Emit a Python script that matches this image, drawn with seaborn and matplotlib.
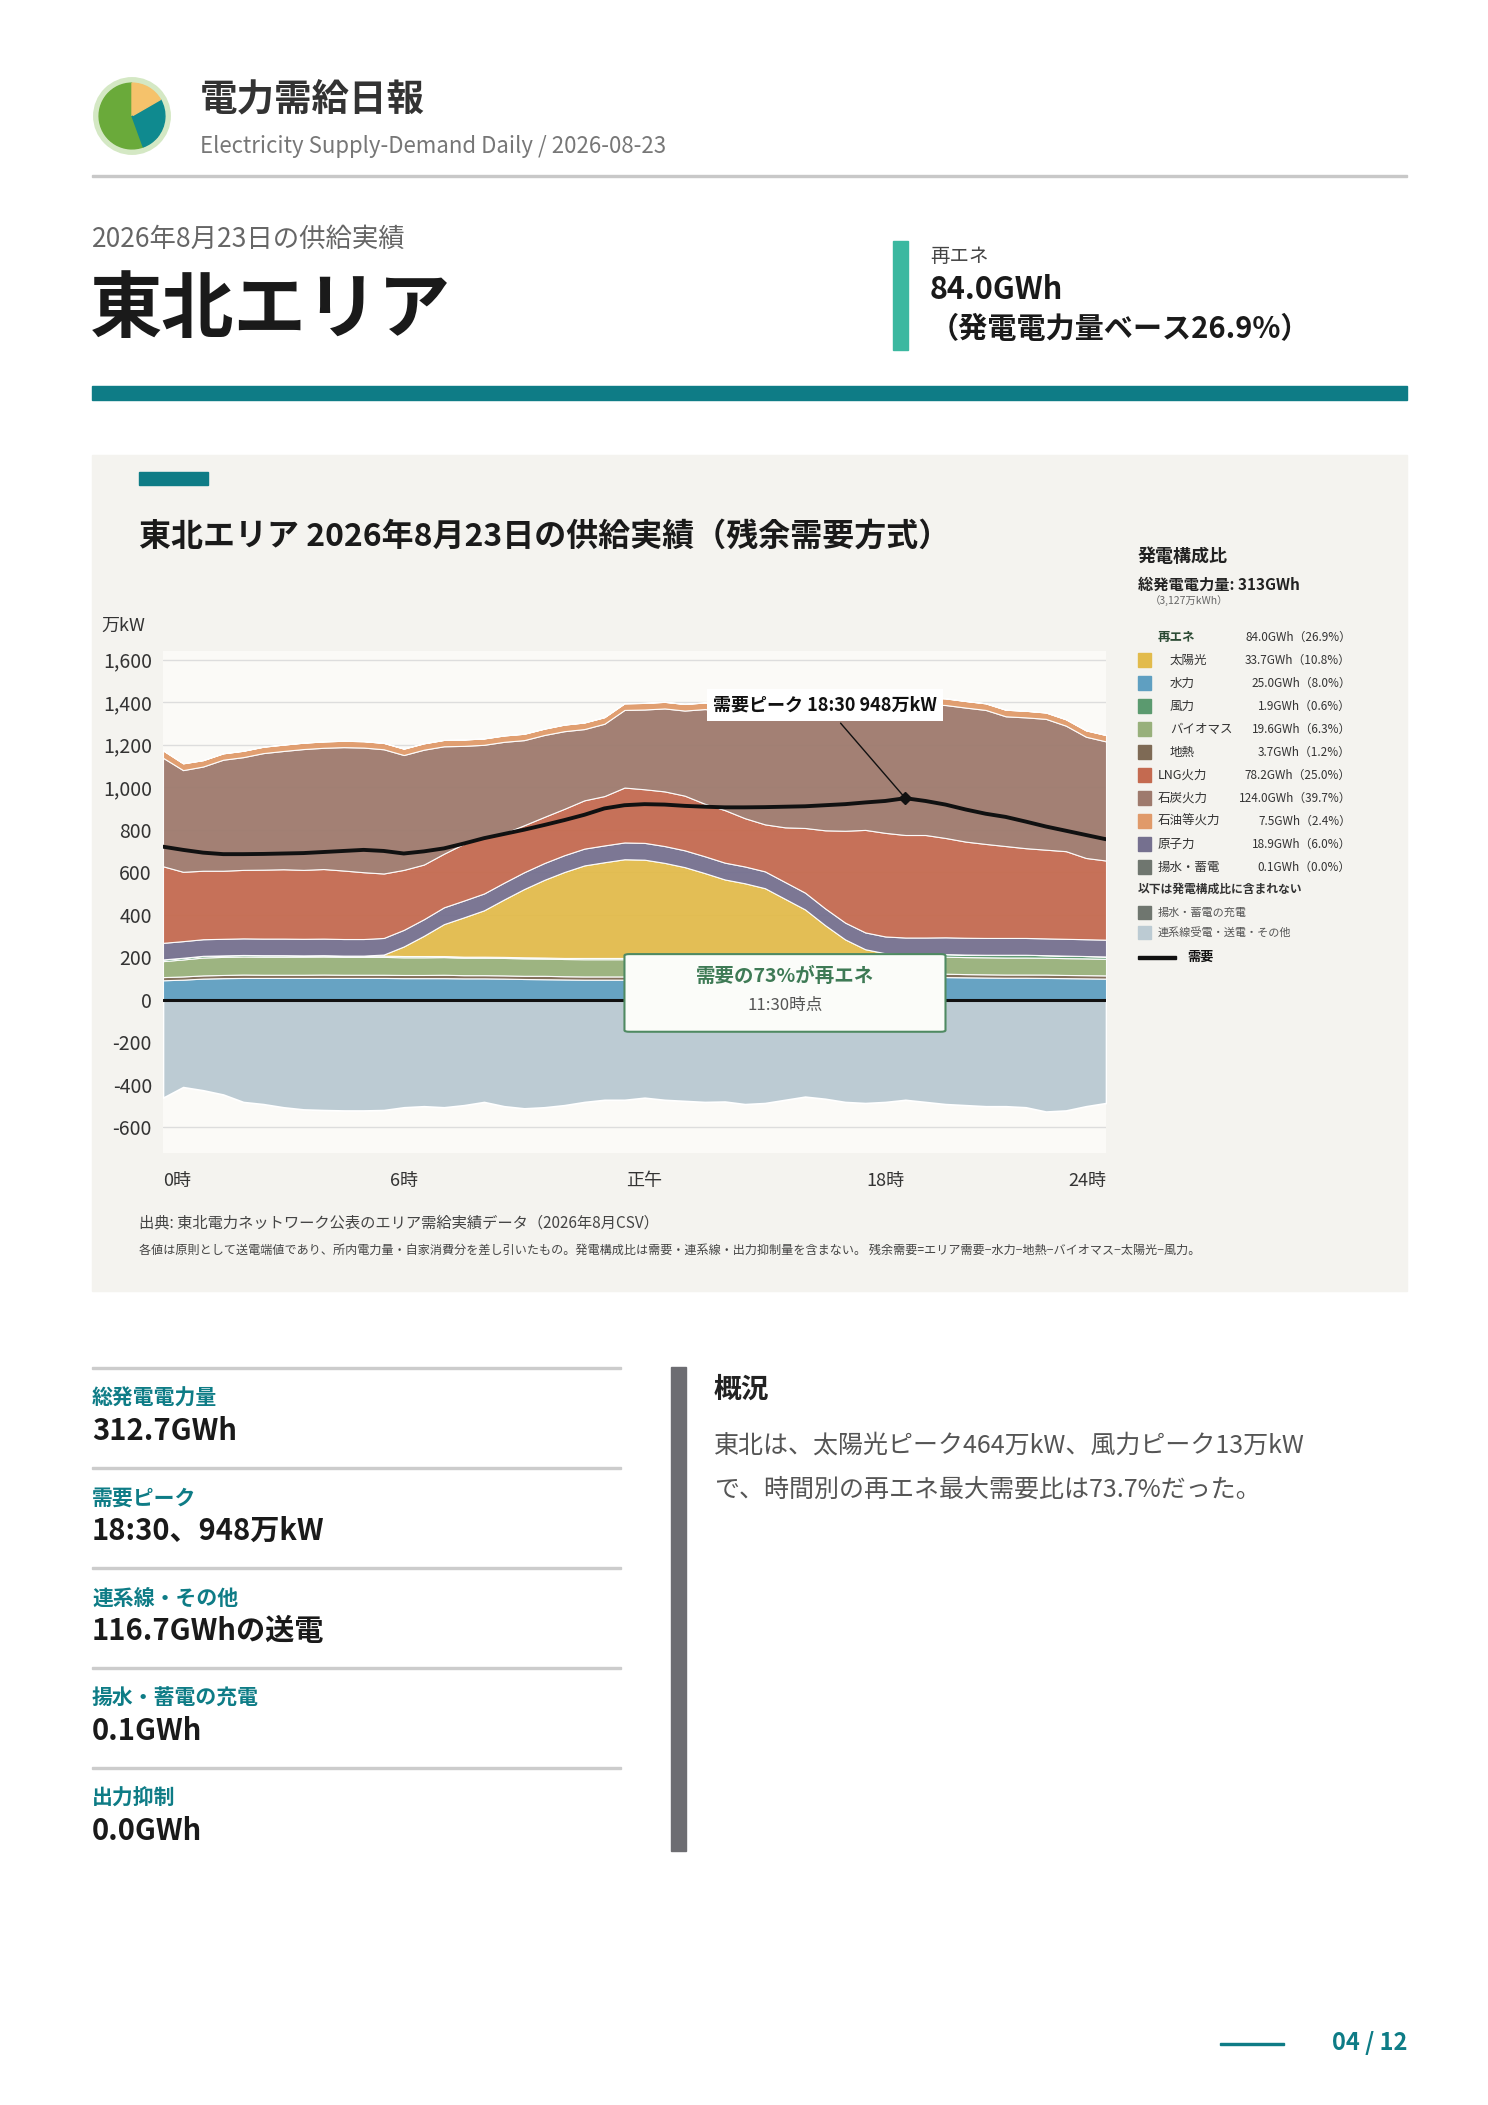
import numpy as np
import pandas as pd
import seaborn as sns
import matplotlib.pyplot as plt
from matplotlib.patches import Rectangle, FancyBboxPatch, Wedge, Circle

sns.set_theme(style="white")
plt.rcParams['font.family'] = ['Noto Sans CJK JP', 'DejaVu Sans']

# ---- data (万kW, 30-minute steps 0:00-23:30) ----
hours = [i * 0.5 for i in range(48)]
hydro = [92, 95, 100, 102, 103, 103, 103, 103, 103, 103, 103, 103, 102, 102, 102, 101,
         101, 100, 98, 97, 96, 95, 95, 95, 95, 96, 96, 97, 97, 98, 99, 100,
         102, 105, 107, 108, 108, 108, 108, 107, 106, 105, 104, 104, 103, 102, 101, 100]
geothermal = [15, 15, 15, 15, 16, 15, 15, 15, 16, 15, 15, 15, 15, 15, 16, 15,
              15, 15, 15, 16, 15, 15, 15, 15, 16, 15, 15, 15, 15, 16, 15, 15,
              15, 15, 16, 15, 15, 15, 15, 16, 15, 15, 15, 15, 16, 15, 15, 15]
biomass = [75, 80, 84, 85, 85, 85, 85, 85, 85, 84, 84, 84, 83, 83, 83, 82,
           82, 82, 82, 81, 81, 81, 81, 81, 81, 81, 81, 81, 81, 81, 81, 81,
           81, 81, 81, 80, 80, 80, 80, 80, 80, 80, 80, 80, 79, 79, 79, 78]
wind = [8, 8, 8, 7, 7, 7, 7, 6, 6, 6, 6, 6, 6, 6, 5, 5,
        5, 5, 5, 5, 5, 6, 6, 6, 7, 7, 7, 8, 8, 8, 9, 9,
        9, 10, 10, 10, 11, 11, 11, 12, 12, 12, 13, 13, 12, 12, 11, 11]
solar = [0, 0, 0, 0, 0, 0, 0, 0, 0, 0, 0, 5, 45, 95, 150, 185,
         218, 270, 321, 365, 404, 435, 450, 464, 460, 445, 425, 395, 365, 345, 321, 270,
         218, 140, 70, 25, 5, 0, 0, 0, 0, 0, 0, 0, 0, 0, 0, 0]
nuclear = [78, 78, 78, 78, 78, 78, 78, 78, 78, 78, 78, 78, 78, 78, 79, 79,
           79, 79, 79, 79, 79, 79, 79, 79, 79, 79, 79, 79, 79, 79, 79, 79,
           79, 79, 79, 79, 79, 79, 79, 79, 79, 79, 79, 79, 79, 79, 79, 79]
lng = [360, 326, 322, 320, 322, 324, 326, 324, 327, 322, 314, 303, 282, 257, 252, 267,
       264, 232, 221, 217, 218, 227, 232, 258, 252, 257, 257, 247, 247, 227, 221, 257,
       304, 367, 432, 482, 487, 482, 482, 467, 452, 442, 432, 422, 417, 412, 382, 372]
coal = [510, 478, 490, 522, 530, 548, 556, 568, 570, 580, 586, 584, 540, 540, 505, 460,
        435, 430, 400, 385, 365, 335, 340, 365, 375, 390, 400, 445, 465, 495, 510, 545,
        565, 590, 600, 600, 615, 620, 615, 625, 630, 630, 610, 615, 615, 590, 570, 560]
oil = [35, 32, 30, 30, 30, 30, 30, 30, 30, 30, 30, 30, 30, 30, 30, 30,
       30, 30, 30, 30, 31, 31, 31, 31, 31, 31, 31, 31, 31, 32, 32, 32,
       32, 32, 32, 32, 32, 32, 32, 31, 31, 31, 31, 31, 30, 30, 30, 30]
pumped = [0, 0, 0, 0, 0, 0, 0, 0, 0, 0, 0, 0, 0, 0, 0, 0,
          0, 0, 0, 0, 0, 0, 0, 0, 0, 0, 0, 0, 0, 0, 0, 0,
          0, 0, 0, 1, 2, 2, 1, 1, 0, 0, 0, 0, 0, 0, 0, 0]
interconnect = [-460, -410, -425, -445, -480, -490, -505, -515, -518, -520, -520, -518, -505, -500, -505, -495,
                -480, -500, -510, -505, -495, -480, -470, -470, -460, -470, -475, -480, -478, -490, -485, -470,
                -455, -465, -480, -485, -480, -470, -480, -490, -495, -500, -500, -505, -525, -520, -500, -485]
demand = [720, 705, 692, 685, 685, 686, 688, 690, 695, 700, 705, 700, 688, 698, 712, 735,
          760, 780, 800, 822, 845, 870, 900, 915, 920, 918, 912, 908, 905, 905, 906, 908,
          910, 915, 920, 928, 935, 948, 935, 918, 895, 875, 860, 838, 815, 795, 775, 755]

series_names = ['水力', '地熱', 'バイオマス', '風力', '太陽光', '原子力', 'LNG火力', '石炭火力', '石油等火力', '揚水・蓄電']
series_vals = [hydro, geothermal, biomass, wind, solar, nuclear, lng, coal, oil, pumped]
colors = {'太陽光': '#e2bb4c', '水力': '#5f9fc1', '風力': '#5b9a6f', 'バイオマス': '#98b07b',
          '地熱': '#7e6a55', 'LNG火力': '#c46a50', '石炭火力': '#9e7a6d', '石油等火力': '#e09a6a',
          '原子力': '#75708f', '揚水・蓄電': '#6f766f', '連系線': '#bccbd3'}

legend_rows = [('再エネ', '84.0GWh（26.9%）', None, True),
               ('太陽光', '33.7GWh（10.8%）', '太陽光', False),
               ('水力', '25.0GWh（8.0%）', '水力', False),
               ('風力', '1.9GWh（0.6%）', '風力', False),
               ('バイオマス', '19.6GWh（6.3%）', 'バイオマス', False),
               ('地熱', '3.7GWh（1.2%）', '地熱', False),
               ('LNG火力', '78.2GWh（25.0%）', 'LNG火力', False),
               ('石炭火力', '124.0GWh（39.7%）', '石炭火力', False),
               ('石油等火力', '7.5GWh（2.4%）', '石油等火力', False),
               ('原子力', '18.9GWh（6.0%）', '原子力', False),
               ('揚水・蓄電', '0.1GWh（0.0%）', '揚水・蓄電', False)]

stats = [('総発電電力量', '312.7GWh'), ('需要ピーク', '18:30、948万kW'), ('連系線・その他', '116.7GWhの送電'),
         ('揚水・蓄電の充電', '0.1GWh'), ('出力抑制', '0.0GWh')]

W, H = 1488, 2105
fig = plt.figure(figsize=(W / 100, H / 100), dpi=100)
fig.patch.set_facecolor('white')


def T(x, y, s, **kw):
    fig.text(x / W, 1 - y / H, s, **kw)


def R(x0, y0, x1, y1, color):
    fig.patches.append(Rectangle((x0 / W, 1 - y1 / H), (x1 - x0) / W, (y1 - y0) / H,
                                 transform=fig.transFigure, color=color, zorder=-5))


TEAL = '#0e7c86'

# header
lax = fig.add_axes([93 / W, 1 - 155 / H, 78 / W, 78 / H])
lax.set_aspect('equal')
lax.axis('off')
lax.add_patch(Circle((0, 0), 1.0, color='#d4e8c4'))
lax.add_patch(Wedge((0, 0), 0.86, 90, 90 + 200, color='#6aaa3a'))
lax.add_patch(Wedge((0, 0), 0.86, -40, 30, color='#0f8a8f'))
lax.add_patch(Wedge((0, 0), 0.86, 30, 90, color='#f5c26b'))
lax.add_patch(Wedge((0, 0), 0.86, 290, 320, color='#0f8a8f'))
lax.set_xlim(-1.02, 1.02)
lax.set_ylim(-1.02, 1.02)

T(200, 99, '電力需給日報', fontsize=27, fontweight='bold', color='#333333', va='center')
T(200, 146, 'Electricity Supply-Demand Daily / 2026-08-23', fontsize=16, color='#777777', va='center')
R(92, 175, 1407, 177, '#c8c8c8')

T(92, 239, '2026年8月23日の供給実績', fontsize=19, color='#666666', va='center')
T(90, 311, '東北エリア', fontsize=52, fontweight='bold', color='#1a1a1a', va='center')
R(893, 241, 908, 350, '#3bb8a0')
T(930, 256, '再エネ', fontsize=14, color='#444444', va='center')
T(930, 290, '84.0GWh', fontsize=22, fontweight='bold', color='#1a1a1a', va='center')
T(930, 329, '（発電電力量ベース26.9%）', fontsize=21, fontweight='bold', color='#1a1a1a', va='center')
R(92, 386, 1407, 400, TEAL)

# chart panel
R(92, 455, 1407, 1291, '#f4f3ef')
R(139, 472, 208, 485, TEAL)
T(139, 537, '東北エリア 2026年8月23日の供給実績（残余需要方式）', fontsize=23, fontweight='bold', color='#1a1a1a', va='center')

ax = fig.add_axes([163 / W, 1 - 1153 / H, (1106 - 163) / W, (1153 - 651) / H])
ax.set_zorder(2)
ax.set_facecolor('#fbfaf7')
ax.stackplot(hours, *series_vals, colors=[colors[n] for n in series_names],
             edgecolor='white', linewidth=0.8, alpha=0.95)
ax.fill_between(hours, interconnect, 0, color=colors['連系線'], edgecolor='white', linewidth=1.2)
df = pd.DataFrame({'hour': hours, 'demand': demand})
sns.lineplot(data=df, x='hour', y='demand', color='#111111', linewidth=2.8, ax=ax)
ax.axhline(0, color='#111111', linewidth=2.2)
ax.set_xlim(0, 23.5)
ax.set_ylim(-720, 1640)
ax.set_yticks(range(-600, 1601, 200))
ax.set_yticklabels([f'{v:,}' for v in range(-600, 1601, 200)], fontsize=14, color='#333333')
ax.set_xticks([0, 6, 12, 18, 23.5])
ax.set_xticklabels(['0時', '6時', '正午', '18時', '24時'], fontsize=13, color='#333333')
xl = ax.get_xticklabels()
xl[0].set_ha('left')
xl[-1].set_ha('right')
ax.tick_params(axis='x', pad=14, length=0)
ax.tick_params(axis='y', pad=8, length=0)
ax.yaxis.grid(True, color='#dddddd', linewidth=1)
ax.set_axisbelow(True)
for sp in ax.spines.values():
    sp.set_visible(False)
ax.set_xlabel('')
ax.set_ylabel('')
T(101, 626, '万kW', fontsize=13, color='#333333', va='center')

# peak annotation
pi = int(np.argmax(demand))
ax.plot(hours[pi], demand[pi], 'D', color='#111111', markersize=6)
ax.annotate('需要ピーク 18:30 948万kW', xy=(hours[pi], demand[pi]), xytext=(16.5, 1385),
            fontsize=13, fontweight='bold', color='#111111', ha='center', va='center',
            bbox=dict(boxstyle='square,pad=0.35', fc='white', ec='none'),
            arrowprops=dict(arrowstyle='-', color='#111111', lw=1))

# renewable share box
ax.add_patch(FancyBboxPatch((11.5, -150), 8.0, 365, boxstyle='round,pad=0,rounding_size=0.12',
                            fc='#fbfcf9', ec='#4f8a62', lw=1.5, zorder=5, mutation_aspect=60))
ax.text(15.5, 110, '需要の73%が再エネ', fontsize=14, fontweight='bold', color='#3e7a55', ha='center', va='center', zorder=6)
ax.text(15.5, -25, '11:30時点', fontsize=12, color='#555555', ha='center', va='center', zorder=6)

# legend
T(1138, 557, '発電構成比', fontsize=13, fontweight='bold', color='#222222', va='center')
T(1138, 585, '総発電電力量: 313GWh', fontsize=11, fontweight='bold', color='#222222', va='center')
T(1150, 601, '（3,127万kWh）', fontsize=7.5, color='#666666', va='center')
y = 637
for name, val, ckey, bold in legend_rows:
    if ckey:
        R(1138, y - 7, 1151, y + 7, colors[ckey])
    indent = 1170 if name in ('太陽光', '水力', '風力', 'バイオマス', '地熱') else 1158
    T(indent, y, name, fontsize=9, fontweight='bold' if bold else 'normal',
      color='#2a4a33' if bold else '#333333', va='center')
    T(1351, y, val, fontsize=8.5, color='#333333', ha='right', va='center')
    y += 23
T(1138, 889, '以下は発電構成比に含まれない', fontsize=8.5, fontweight='bold', color='#333333', va='center')
R(1138, 906, 1151, 919, colors['揚水・蓄電'])
T(1158, 913, '揚水・蓄電の充電', fontsize=8, color='#555555', va='center')
R(1138, 926, 1151, 939, colors['連系線'])
T(1158, 932, '連系線受電・送電・その他', fontsize=8, color='#555555', va='center')
R(1138, 956, 1176, 959, '#111111')
T(1187, 957, '需要', fontsize=9.5, fontweight='bold', color='#111111', va='center')

T(139, 1223, '出典: 東北電力ネットワーク公表のエリア需給実績データ（2026年8月CSV）', fontsize=11, color='#444444', va='center')
T(139, 1250, '各値は原則として送電端値であり、所内電力量・自家消費分を差し引いたもの。発電構成比は需要・連系線・出力抑制量を含まない。 残余需要=エリア需要−水力−地熱−バイオマス−太陽光−風力。',
  fontsize=8.7, color='#444444', va='center')

# stats
for i, (lab, val) in enumerate(stats):
    y0 = 1367 + i * 100
    R(92, y0, 621, y0 + 2, '#cccccc')
    T(92, y0 + 31, lab, fontsize=15, fontweight='bold', color=TEAL, va='center')
    T(92, y0 + 64, val, fontsize=21, fontweight='bold', color='#1a1a1a', va='center')

R(671, 1367, 686, 1851, '#6d6d72')
T(714, 1390, '概況', fontsize=20, fontweight='bold', color='#222222', va='center')
T(714, 1446, '東北は、太陽光ピーク464万kW、風力ピーク13万kW', fontsize=18, color='#555555', va='center')
T(714, 1490, 'で、時間別の再エネ最大需要比は73.7%だった。', fontsize=18, color='#555555', va='center')

# footer
R(1220, 2043, 1284, 2045, TEAL)
T(1407, 2043, '04 / 12', fontsize=17, fontweight='bold', color=TEAL, ha='right', va='center')

fig.savefig('out.png', dpi=100, facecolor='white')
